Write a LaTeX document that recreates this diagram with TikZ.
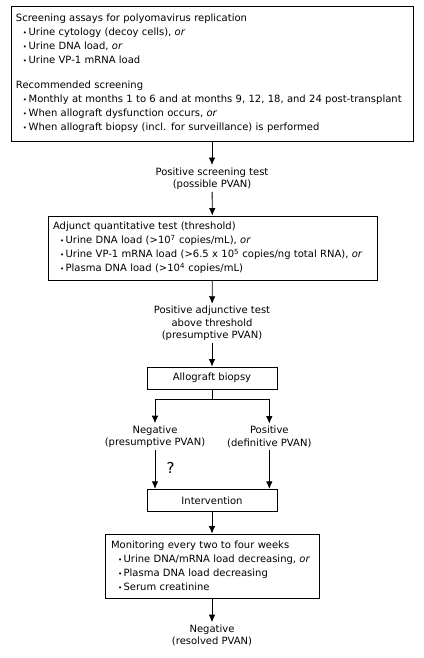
\documentclass[tikz,border=0pt]{standalone}
\usepackage{fontspec}
\setmainfont{DejaVu Sans}
\usetikzlibrary{arrows.meta}

\newcommand{\itm}{\hspace*{7pt}{\fontsize{7}{7}\selectfont•}\hspace{1.5pt}}

\begin{document}
\begin{tikzpicture}[x=1pt, y=-1pt, line width=0.8pt,
    font=\fontsize{10}{12.5}\selectfont,
    box/.style = {draw, inner xsep=5pt, inner ysep=0pt, align=left},
    stepbox/.style = {draw, minimum width=130pt, minimum height=22pt, align=center},
    txt/.style = {align=center, inner sep=2pt},
    arr/.style = {-{Latex[length=7.5pt, width=6.5pt]}}]
    \useasboundingbox (0,0) rectangle (423,658);
    % boxes
    \node[box, font=\fontsize{10}{14}\selectfont, text width=392pt, minimum height=135pt] (assays) at (212,73.5) {Screening assays for polyomavirus replication\\
        \itm Urine cytology (decoy cells), \textit{or}\\
        \itm Urine DNA load, \textit{or}\\
        \itm Urine VP-1 mRNA load\\[11pt]
        Recommended screening\\
        \itm Monthly at months 1 to 6 and at months 9, 12, 18, and 24 post-transplant\\
        \itm When allograft dysfunction occurs, \textit{or}\\
        \itm When allograft biopsy (incl. for surveillance) is performed};
    \node[txt] (possible) at (212,178.5) {Positive screening test\\(possible PVAN)};
    \node[box, text width=319pt, minimum height=64pt] (adjunct) at (212.5,248) {Adjunct quantitative test (threshold)\\[1.5pt]
        \itm Urine DNA load (>10\textsuperscript{7} copies/mL), \textit{or}\\[1.5pt]
        \itm Urine VP-1 mRNA load (>6.5 x 10\textsuperscript{5} copies/ng total RNA), \textit{or}\\[1.5pt]
        \itm Plasma DNA load (>10\textsuperscript{4} copies/mL)};
    \node[txt] (presum) at (212,323.5) {Positive adjunctive test\\above threshold\\(presumptive PVAN)};
    \node[stepbox] (biopsy) at (212,378) {Allograft biopsy};
    \coordinate (fork) at (212,399.3);
    \node[txt] (neg) at (155,436.7) {Negative\\(presumptive PVAN)};
    \node[txt] (pos) at (269.3,436.7) {Positive\\(definitive PVAN)};
    \node[font=\fontsize{15}{17}\selectfont] (quest) at (170.7,467.7) {?};
    \node[stepbox] (interv) at (212,500.3) {Intervention};
    \node[box, text width=202pt, inner xsep=6pt, minimum height=64pt] (monitor) at (212,566) {Monitoring every two to four weeks\\[1.5pt]
        \itm Urine DNA/mRNA load decreasing, \textit{or}\\[1.5pt]
        \itm Plasma DNA load decreasing\\[1.5pt]
        \itm Serum creatinine};
    \node[txt] (resolved) at (212,635.3) {Negative\\(resolved PVAN)};
    % connectors
    \draw[arr] (assays) -- (possible);
    \draw[arr] (possible) -- (adjunct);
    \draw[arr] (adjunct) -- (presum);
    \draw[arr] (presum) -- (biopsy);
    \draw (biopsy) -- (fork);
    \draw[arr] (fork) -| (neg);
    \draw[arr] (fork) -| (pos);
    \draw[arr] (neg) -- (neg |- interv.north);
    \draw[arr] (pos) -- (pos |- interv.north);
    \draw[arr] (interv) -- (monitor);
    \draw[arr] (monitor) -- (resolved);
\end{tikzpicture}
\end{document}
